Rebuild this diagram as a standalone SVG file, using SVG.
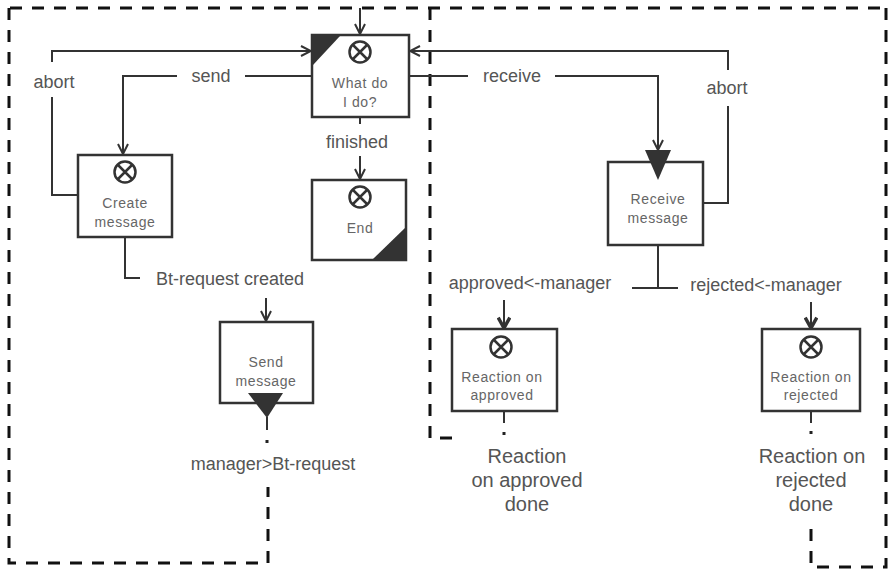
<svg xmlns="http://www.w3.org/2000/svg" width="888" height="570" viewBox="0 0 888 570">
<defs>
<marker id="arr" viewBox="0 0 12 12" refX="11" refY="6" markerWidth="12" markerHeight="12" markerUnits="userSpaceOnUse" orient="auto">
<path d="M1,1 L11,6 L1,11" fill="none" stroke="#333" stroke-width="2"/>
</marker>
<marker id="arrT" viewBox="0 0 12 12" refX="10" refY="6" markerWidth="14" markerHeight="14" markerUnits="userSpaceOnUse" orient="auto">
<path d="M1,1 L10,6 L1,11" fill="none" stroke="#333" stroke-width="3"/>
</marker>
<g id="ico">
<circle cx="0" cy="0" r="10.5" fill="none" stroke="#333" stroke-width="2.5"/>
<path d="M-7,-7 L7,7 M7,-7 L-7,7" stroke="#333" stroke-width="2.5"/>
</g>
</defs>
<style>
.box{fill:#fff;stroke:#333;stroke-width:2.5}
.ln{fill:none;stroke:#333;stroke-width:2}
.dash{fill:none;stroke:#111;stroke-width:3;stroke-dasharray:12 10}
.t{font-family:"Liberation Sans",Arial,sans-serif;font-size:14px;letter-spacing:0.6px;fill:#666;text-anchor:middle}
.l{font-family:"Liberation Sans",Arial,sans-serif;font-size:18px;fill:#555;text-anchor:middle}
.b{font-family:"Liberation Sans",Arial,sans-serif;font-size:20px;fill:#555;text-anchor:middle}
.tri{fill:#333}
</style>
<rect width="888" height="570" fill="#fff"/>
<g id="boundaries">
<path class="dash" d="M10,8 L887,8"/>
<path class="dash" d="M9,8 L9,563 L268,563 L268,487"/>
<path class="dash" d="M430,8 L430,438 L458,438"/>
<path class="dash" d="M886,8 L886,567 L811,567 L811,523"/>
</g>
<g id="connectors">
<path class="ln" d="M360,8 L360,34" marker-end="url(#arr)"/>
<path class="ln" d="M52,62 L52,51 L311,51" marker-end="url(#arr)"/>
<path class="ln" d="M52,97 L52,195 L78,195"/>
<path class="ln" d="M312,76 L245,76"/>
<path class="ln" d="M177,76 L123,76 L123,154" marker-end="url(#arr)"/>
<path class="ln" d="M360,117 L360,124"/>
<path class="ln" d="M360,156 L360,179" marker-end="url(#arr)"/>
<path class="ln" d="M409,76 L468,76"/>
<path class="ln" d="M555,76 L658,76 L658,150" marker-end="url(#arr)"/>
<path class="ln" d="M703,203 L728,203 L728,106"/>
<path class="ln" d="M728,70 L728,51 L410,51" marker-end="url(#arr)"/>
<path class="ln" d="M125,237 L125,278 L140,278"/>
<path class="ln" d="M266,298 L266,321" marker-end="url(#arr)"/>
<path class="ln" d="M267,417 L267,430" stroke-width="3"/>
<rect x="265.5" y="440" width="3" height="3" fill="#222"/>
<path class="ln" d="M658,245 L658,288" stroke-width="3.5"/>
<path class="ln" d="M632,288 L678,288" stroke-width="4"/>
<path class="ln" d="M504,300 L504,328" stroke-width="3" marker-end="url(#arrT)"/>
<path class="ln" d="M811,302 L811,328" stroke-width="3" marker-end="url(#arrT)"/>
<path class="ln" d="M504,411 L504,423" stroke-width="3"/>
<rect x="502.5" y="432" width="3" height="3" fill="#222"/>
<path class="ln" d="M811,411 L811,423" stroke-width="3"/>
<rect x="809.5" y="431" width="3" height="3" fill="#222"/>
</g>
<g id="labels">
<text class="l" x="54" y="88">abort</text>
<text class="l" x="211" y="82">send</text>
<text class="l" x="357" y="148">finished</text>
<text class="l" x="512" y="82">receive</text>
<text class="l" x="727" y="94">abort</text>
<text class="l" x="230" y="285">Bt-request created</text>
<text class="l" x="273" y="470">manager&gt;Bt-request</text>
<text class="l" x="530" y="289">approved&lt;-manager</text>
<text class="l" x="766" y="291">rejected&lt;-manager</text>
<text class="b" x="527" y="463">Reaction</text>
<text class="b" x="527" y="487">on approved</text>
<text class="b" x="527" y="511">done</text>
<text class="b" x="812" y="463">Reaction on</text>
<text class="b" x="811" y="487">rejected</text>
<text class="b" x="811" y="511">done</text>
</g>
<g id="what">
<rect class="box" x="312" y="35" width="97" height="82"/>
<path class="tri" d="M313,36 L340,36 L313,65 Z"/>
<use href="#ico" x="360" y="52"/>
<text class="t" x="360" y="88">What do</text>
<text class="t" x="360" y="107">I do?</text>
</g>
<g id="create">
<rect class="box" x="78" y="155" width="94" height="82"/>
<use href="#ico" x="125" y="172"/>
<text class="t" x="125" y="208">Create</text>
<text class="t" x="125" y="227">message</text>
</g>
<g id="end">
<rect class="box" x="312" y="180" width="94" height="80"/>
<path class="tri" d="M405,228 L405,259 L373,259 Z"/>
<use href="#ico" x="360" y="197"/>
<text class="t" x="360" y="233">End</text>
</g>
<g id="send">
<rect class="box" x="220" y="322" width="93" height="81"/>
<text class="t" x="266" y="367">Send</text>
<text class="t" x="266" y="386">message</text>
<path class="tri" d="M248,393 L283,393 L267,418 Z"/>
</g>
<g id="receive">
<rect class="box" x="608" y="162" width="95" height="83"/>
<path class="tri" d="M645,150 L671,150 L658,180 Z"/>
<text class="t" x="658" y="204">Receive</text>
<text class="t" x="658" y="223">message</text>
</g>
<g id="approved">
<rect class="box" x="452" y="329" width="105" height="82"/>
<use href="#ico" x="501" y="347"/>
<text class="t" x="502" y="382">Reaction on</text>
<text class="t" x="502" y="400">approved</text>
</g>
<g id="rejected">
<rect class="box" x="762" y="329" width="98" height="82"/>
<use href="#ico" x="811" y="347"/>
<text class="t" x="811" y="382">Reaction on</text>
<text class="t" x="811" y="400">rejected</text>
</g>
</svg>
